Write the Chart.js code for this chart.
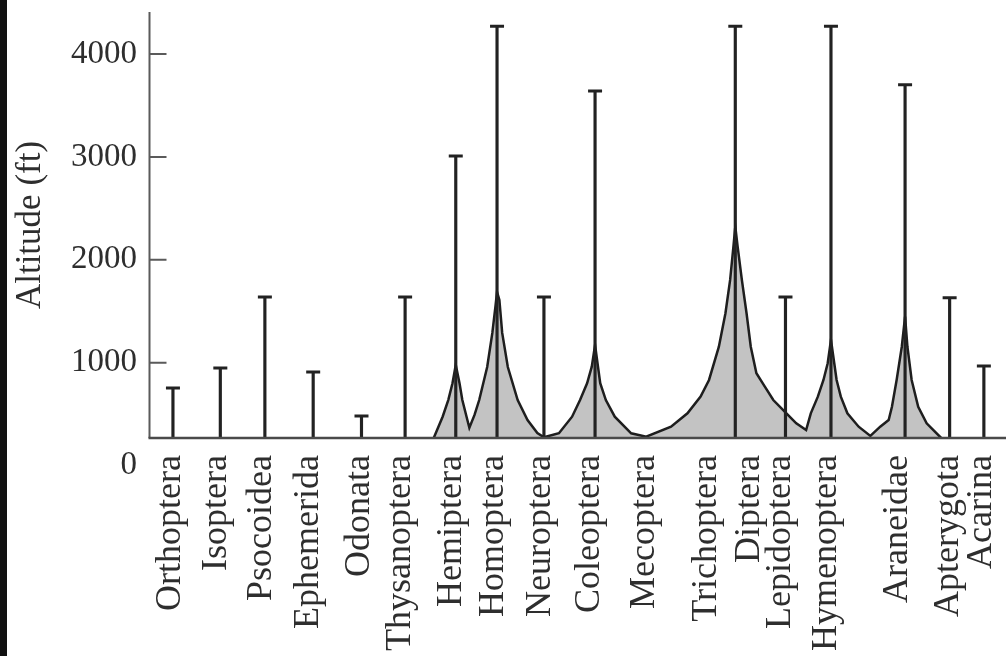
<!DOCTYPE html>
<html>
<head>
<meta charset="utf-8">
<script src="https://cdn.jsdelivr.net/npm/chart.js@4.4.1/dist/chart.umd.min.js"></script>
<style>
html, body { margin: 0; padding: 0; background: #fff; overflow: hidden; width: 1006px; height: 656px; }
#wrap { position: absolute; left: 0; top: 0; width: 1060px; height: 656px; }
#strip { position: absolute; left: 0; top: 0; width: 7px; height: 656px; background: #111; z-index: 2; }
</style>
</head>
<body>
<div id="wrap"><canvas id="c" width="1060" height="656"></canvas></div>
<div id="strip"></div>
<script>
// ---- data ----
const categories = ['Orthoptera', 'Isoptera', 'Psocoidea', 'Ephemerida', 'Odonata', 'Thysanoptera',
  'Hemiptera', 'Homoptera', 'Neuroptera', 'Coleoptera', 'Mecoptera', 'Trichoptera', 'Diptera',
  'Lepidoptera', 'Hymenoptera', 'Araneidae', 'Apterygota', 'Acarina'];
const labelPositions = [0.44, 1.43, 2.38, 3.39, 4.47, 5.35, 6.45, 7.34, 8.33, 9.38, 10.56, 11.87,
  12.80, 13.45, 14.44, 15.96, 17.04, 17.75];

const whiskerTaxa = ['Orthoptera', 'Isoptera', 'Psocoidea', 'Ephemerida', 'Odonata', 'Thysanoptera',
  'Hemiptera', 'Homoptera', 'Neuroptera', 'Coleoptera', 'Diptera', 'Lepidoptera', 'Hymenoptera',
  'Araneidae', 'Apterygota', 'Acarina'];
const whiskerPositions = [0.50, 1.51, 2.46, 3.49, 4.52, 5.45, 6.53, 7.41, 8.41, 9.50, 12.49, 13.56,
  14.53, 16.11, 17.06, 17.79];
const maxAltitude = [754, 948, 1638, 910, 482, 1638, 3008, 4270, 1638, 3640, 4270, 1638, 4270,
  3700, 1630, 968];

const baselineAltitude = 268;

const curvePositions = [6.06, 6.25, 6.37, 6.46, 6.53, 6.61, 6.67, 6.76, 6.82,
  6.93, 7.03, 7.20, 7.31, 7.38, 7.41, 7.46, 7.52, 7.64, 7.85, 8.06, 8.27, 8.41,
  8.73, 9.01, 9.18, 9.33, 9.43, 9.50, 9.61, 9.73, 9.92, 10.27, 10.59,
  11.12, 11.47, 11.75, 11.93, 12.14, 12.28, 12.38, 12.45, 12.49, 12.54, 12.63, 12.73, 12.82,
  12.94, 13.12, 13.30, 13.58, 13.79, 14.00,
  14.10, 14.25, 14.37, 14.46, 14.53, 14.60, 14.65, 14.74, 14.88, 15.12, 15.37,
  15.58, 15.76, 15.83, 15.93, 16.04, 16.11, 16.16, 16.25, 16.39, 16.57, 16.88];
const curveAltitude = [268, 475, 637, 800, 978, 800, 637, 475, 368,
  492, 637, 958, 1289, 1561, 1687, 1609, 1289, 958, 637, 443, 317, 275,
  314, 475, 637, 800, 961, 1172, 800, 637, 475, 314, 281,
  378, 508, 670, 832, 1155, 1480, 1804, 2127, 2322, 2127, 1804, 1480, 1155,
  897, 767, 637, 508, 411, 346,
  508, 670, 832, 994, 1221, 994, 832, 670, 508, 378, 288,
  378, 443, 572, 832, 1155, 1447, 1155, 832, 572, 411, 268];

const yTickValues = [0, 1000, 2000, 3000, 4000];
const yMax = 4408;
const xMax = 19.2;

// ---- chart ----
const FONT = 'Liberation Serif';
const TEXT = '#2e2e2e';

const axisFrame = {
  id: 'axisFrame',
  afterDatasetsDraw(chart) {
    const { ctx, chartArea, scales } = chart;
    const y = scales.y;
    const yb = chartArea.bottom;
    ctx.save();
    ctx.strokeStyle = '#5a5a5a';
    ctx.lineWidth = 2;
    ctx.beginPath();
    ctx.moveTo(chartArea.left, chartArea.top);
    ctx.lineTo(chartArea.left, yb);
    yTickValues.filter(v => v > baselineAltitude).forEach(v => {
      const py = y.getPixelForValue(v);
      ctx.moveTo(chartArea.left, py);
      ctx.lineTo(chartArea.left + 17, py);
    });
    ctx.stroke();
    ctx.strokeStyle = '#4a4a4a';
    ctx.lineWidth = 2.5;
    ctx.beginPath();
    ctx.moveTo(chartArea.left - 1, yb);
    ctx.lineTo(chartArea.right, yb);
    ctx.stroke();
    ctx.restore();
  }
};

new Chart(document.getElementById('c'), {
  type: 'line',
  data: {
    datasets: [
      {
        type: 'line',
        label: 'distribution',
        data: curvePositions.map((x, i) => ({ x, y: curveAltitude[i] })),
        borderColor: '#1e1e1e',
        borderWidth: 2.5,
        backgroundColor: '#c3c3c3',
        fill: { value: baselineAltitude },
        pointRadius: 0,
        tension: 0,
        order: 3
      },
      {
        type: 'bar',
        label: 'range',
        data: whiskerPositions.map((x, i) => ({ x, y: [baselineAltitude, maxAltitude[i]] })),
        backgroundColor: '#222',
        borderWidth: 0,
        barThickness: 2.5,
        grouped: false,
        order: 2
      },
      {
        type: 'line',
        label: 'max',
        data: whiskerPositions.map((x, i) => ({ x, y: maxAltitude[i] })),
        showLine: false,
        pointStyle: 'line',
        pointRadius: 7,
        pointBorderWidth: 3,
        pointBorderColor: '#222',
        order: 1
      }
    ]
  },
  options: {
    responsive: false,
    animation: false,
    events: [],
    layout: { padding: { top: 12, left: 0, right: 0, bottom: 0 } },
    plugins: { legend: { display: false }, tooltip: { enabled: false } },
    scales: {
      x: {
        type: 'linear',
        min: 0,
        max: xMax,
        offset: false,
        grid: { display: false, drawTicks: false },
        border: { display: false },
        afterBuildTicks: (scale) => { scale.ticks = labelPositions.map(v => ({ value: v })); },
        afterFit: (scale) => { scale.height = 218; scale.paddingLeft = 0; scale.paddingRight = 0; },
        ticks: {
          autoSkip: false,
          minRotation: 90,
          maxRotation: 90,
          padding: 17,
          color: TEXT,
          font: { family: FONT, size: 36 },
          callback: (value, index) => categories[index]
        }
      },
      y: {
        type: 'linear',
        min: baselineAltitude,
        max: yMax,
        grid: { display: false, drawTicks: false },
        border: { display: false },
        afterBuildTicks: (scale) => { scale.ticks = yTickValues.map(v => ({ value: v })); },
        afterFit: (scale) => { scale.width = 149.5; scale.paddingTop = 0; scale.paddingBottom = 0; },
        ticks: {
          autoSkip: false,
          padding: 12.5,
          color: TEXT,
          font: { family: FONT, size: 33 },
          callback: (v) => String(v)
        },
        title: {
          display: true,
          text: 'Altitude (ft)',
          color: TEXT,
          font: { family: FONT, size: 35 },
          padding: { top: 10, bottom: 0 }
        }
      }
    }
  },
  plugins: [axisFrame]
});
</script>
</body>
</html>
